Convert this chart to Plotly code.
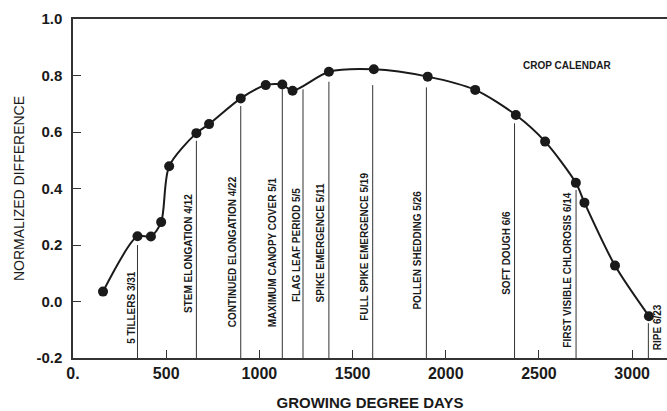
import plotly.graph_objects as go

# ---- data ----
gdd = [161, 346, 418, 473, 516, 662, 730, 900, 1034, 1123, 1178, 1373,
       1614, 1903, 2158, 2376, 2533, 2698, 2744, 2908, 3090]
ndvi = [0.035, 0.231, 0.230, 0.281, 0.479, 0.596, 0.628, 0.719, 0.766, 0.768,
        0.746, 0.813, 0.822, 0.796, 0.749, 0.660, 0.566, 0.420, 0.350, 0.127, -0.052]

event_names = ["5 TILLERS 3/31", "STEM ELONGATION 4/12", "CONTINUED ELONGATION 4/22",
               "MAXIMUM CANOPY COVER 5/1", "FLAG LEAF PERIOD 5/5", "SPIKE EMERGENCE 5/11",
               "FULL SPIKE EMERGENCE 5/19", "POLLEN SHEDDING 5/26", "SOFT DOUGH 6/6",
               "FIRST VISIBLE CHLOROSIS 6/14", "RIPE 6/23"]
event_gdd = [346, 662, 900, 1123, 1234, 1373, 1608, 1896, 2369, 2699, 3087]
event_top = [0.20, 0.569, 0.692, 0.751, 0.751, 0.778, 0.766, 0.758, 0.631, 0.395, -0.077]

x_tickvals = [0, 500, 1000, 1500, 2000, 2500, 3000]
x_ticktext = ["0.", "500", "1000", "1500", "2000", "2500", "3000"]
y_tickvals = [-0.2, 0.0, 0.2, 0.4, 0.6, 0.8, 1.0]
y_ticktext = ["-0.2", "0.0", "0.2", "0.4", "0.6", "0.8", "1.0"]

# ---- layout helpers (positions) ----
label_base = [-0.157, -0.048, -0.097, -0.097, -0.009, -0.009, -0.076, -0.036, 0.015, -0.172, -0.178]
label_shift = [-6, -8, -8, -9, -7, -8, -8, -9, -8, -8, 9]
Y0 = -0.2

FONT = "Liberation Sans, Arial, Helvetica, sans-serif"
INK = "#1a1a1a"

fig = go.Figure()

# vertical crop-calendar lines
vx, vy = [], []
for gx, top in zip(event_gdd, event_top):
    vx += [gx, gx, None]
    vy += [Y0, top, None]
fig.add_trace(go.Scatter(x=vx, y=vy, mode="lines",
                         line=dict(color="#333333", width=1),
                         hoverinfo="skip", showlegend=False))

# curve with points
fig.add_trace(go.Scatter(x=gdd, y=ndvi, mode="lines+markers",
                         line=dict(color=INK, width=2, shape="spline", smoothing=0.8),
                         marker=dict(color=INK, size=10),
                         showlegend=False))

for name, gx, base, sh in zip(event_names, event_gdd, label_base, label_shift):
    fig.add_annotation(x=gx, y=base, text=name, showarrow=False, textangle=-90,
                       xanchor="center", yanchor="bottom", xshift=sh,
                       font=dict(family=FONT, size=10, color=INK, weight="bold"))

fig.add_annotation(x=2653, y=0.835, text="CROP CALENDAR", showarrow=False,
                   xanchor="center", yanchor="middle",
                   font=dict(family=FONT, size=10, color=INK, weight="bold"))

fig.update_layout(
    width=667, height=411,
    margin=dict(l=73, r=0, t=19, b=53),
    paper_bgcolor="white", plot_bgcolor="white",
    font=dict(family=FONT, color=INK),
    xaxis=dict(range=[0, 3187], tickvals=x_tickvals, ticktext=x_ticktext,
               automargin=False,
               showgrid=False, zeroline=False, showline=True, linecolor="#333",
               linewidth=1.5, mirror=True, ticks="inside", ticklen=8, tickcolor="#333",
               tickfont=dict(size=16, family=FONT, color=INK, weight="bold"),
               title=dict(text="GROWING DEGREE DAYS", standoff=20,
                          font=dict(size=15, family=FONT, color=INK, weight="bold"))),
    yaxis=dict(range=[-0.2, 1.0], tickvals=y_tickvals, ticktext=y_ticktext,
               automargin=False,
               showgrid=False, zeroline=False, showline=True, linecolor="#333",
               linewidth=1.5, ticks="inside", ticklen=8, tickcolor="#333",
               ticklabelstandoff=6,
               tickfont=dict(size=15, family=FONT, color=INK, weight="bold"),
               title=dict(text="NORMALIZED DIFFERENCE", standoff=8,
                          font=dict(size=14, family=FONT, color=INK))),
)

fig.write_html("out.html")
